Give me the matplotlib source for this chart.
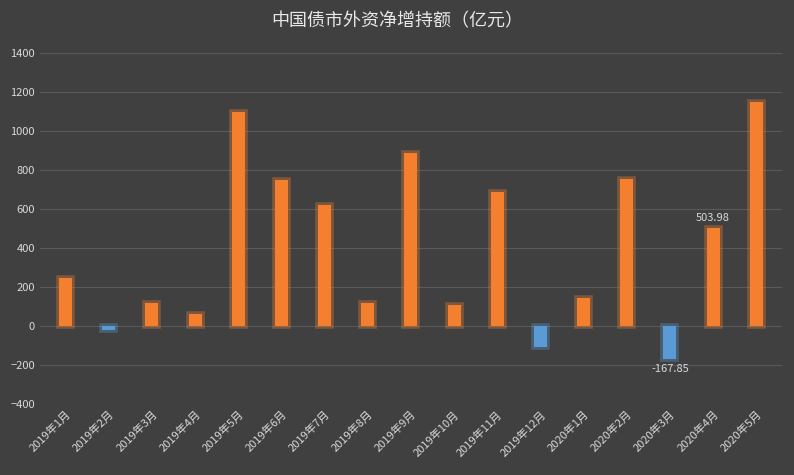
import matplotlib
matplotlib.use("Agg")
import matplotlib.pyplot as plt
import matplotlib.patheffects as pe

plt.rcParams['font.family'] = ['Noto Sans CJK SC', 'DejaVu Sans']

months = ["2019年1月","2019年2月","2019年3月","2019年4月","2019年5月","2019年6月","2019年7月",
          "2019年8月","2019年9月","2019年10月","2019年11月","2019年12月","2020年1月","2020年2月",
          "2020年3月","2020年4月","2020年5月"]
values = [248, -22, 120, 60, 1095, 750, 622, 120, 888, 110, 688, -105, 145, 755, -167.85, 503.98, 1150]

bg = "#404040"
fig = plt.figure(figsize=(7.94, 4.75), dpi=100, facecolor=bg)
ax = fig.add_axes([0.05, 0.149, 0.935, 0.74], facecolor=bg)
colors = ["#5B9BD5" if v < 0 else "#F4802F" for v in values]
x = range(len(values))
bars = ax.bar(x, values, width=0.3, color=colors, zorder=3)
for b, c in zip(bars, colors):
    b.set_path_effects([pe.withStroke(linewidth=4, foreground="#F4802F" if c != "#5B9BD5" else "#5B9BD5", alpha=0.35), pe.Normal()])
ax.set_ylim(-400, 1400)
ax.set_yticks(range(-400, 1401, 200))
ax.set_xlim(-0.6, len(values) - 0.4)
ax.grid(axis='y', color="#5a5a5a", linewidth=0.8, zorder=0)
for s in ax.spines.values():
    s.set_visible(False)
ax.tick_params(colors="#d9d9d9", length=0, labelsize=8)
ax.set_xticks(list(x))
ax.set_xticklabels(months, rotation=45, ha='right', rotation_mode='anchor')
ax.text(14, -167.85 - 25, "-167.85", color="#d9d9d9", ha='center', va='top', fontsize=8)
ax.text(15, 503.98 + 25, "503.98", color="#d9d9d9", ha='center', va='bottom', fontsize=8)
fig.text(0.5, 0.955, "中国债市外资净增持额（亿元）", color="#e8e8e8", ha='center', va='center', fontsize=13)
fig.savefig("out.png", facecolor=bg)
